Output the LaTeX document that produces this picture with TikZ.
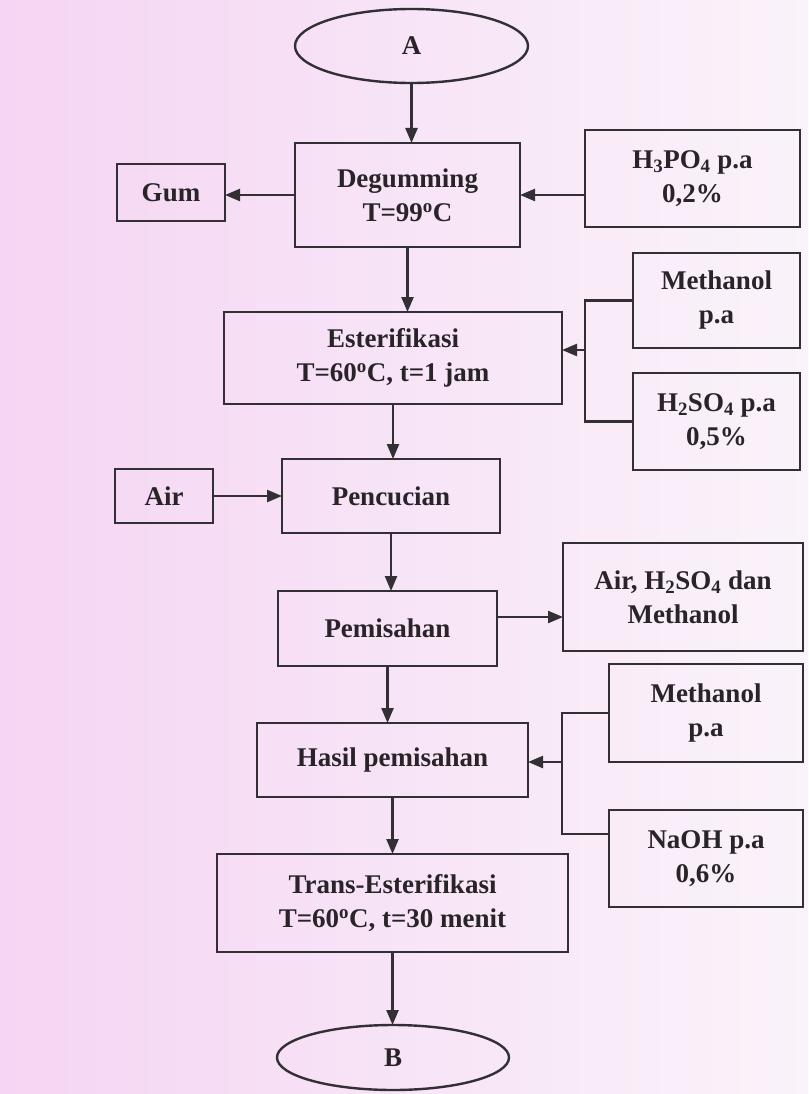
\documentclass[tikz,border=0pt]{standalone}
\usepackage{fontspec}
\setmainfont{Liberation Serif}
\usetikzlibrary{arrows.meta,shapes.geometric}
\definecolor{ink}{RGB}{50,48,52}
\definecolor{txt}{RGB}{40,36,40}
\definecolor{bgl}{RGB}{245,213,243}
\definecolor{bgr}{RGB}{250,243,250}
\begin{document}
\begin{tikzpicture}[x=1pt,y=-1pt,
  box/.style={draw=ink, line width=2.4pt, text=txt, font=\fontsize{27}{34}\selectfont\bfseries, align=center, inner sep=0pt, outer sep=0pt},
  oval/.style={box, ellipse},
  sz/.style 2 args={minimum width=#1pt, minimum height=#2pt},
  ln/.style={draw=ink, line width=2.4pt},
  arr/.style={ln, -{Triangle[length=15pt,width=12pt]}}]
\useasboundingbox (0,0) rectangle (808,1094);
\shade[left color=bgl, right color=bgr] (0,0) rectangle (808,1094);

\node[oval, sz={233}{74}] (A) at (411.5,46) {A};
\node[box, sz={225}{104}] (deg) at (407.5,195) {Degumming\\T=99\textsuperscript{o}C};
\node[box, sz={108}{57}] (gum) at (171,192.5) {Gum};
\node[box, sz={215}{97}] (h3) at (692.5,178.5) {H\textsubscript{3}PO\textsubscript{4} p.a\\0,2\%};
\node[box, sz={167}{95}] (me1) at (716.5,300.5) {Methanol\\p.a};
\node[box, sz={338}{92}] (est) at (393,358) {Esterifikasi\\T=60\textsuperscript{o}C, t=1 jam};
\node[box, sz={167}{97}] (h2) at (716.5,421.5) {H\textsubscript{2}SO\textsubscript{4} p.a\\0,5\%};
\node[box, sz={98}{54}] (air) at (164,496) {Air};
\node[box, sz={218}{74}] (pen) at (391,496) {Pencucian};
\node[box, sz={240}{108}] (aw) at (683,597) {Air, H\textsubscript{2}SO\textsubscript{4} dan\\Methanol};
\node[box, sz={219}{75}] (pem) at (387.5,628.5) {Pemisahan};
\node[box, sz={194}{98}] (me2) at (706,713) {Methanol\\p.a};
\node[box, sz={271}{74}] (has) at (392.5,760) {Hasil pemisahan};
\node[box, sz={194}{97}] (na) at (706,858.5) {NaOH p.a\\0,6\%};
\node[box, sz={351}{98}] (tr) at (392.5,903) {Trans-Esterifikasi\\T=60\textsuperscript{o}C, t=30 menit};
\node[oval, sz={232}{65}] (B) at (393,1057.5) {B};

\coordinate (j1) at (585,421.5);
\coordinate (k1) at (585,350);
\coordinate (j2) at (562,834);
\coordinate (k3) at (562,762);
\path ([yshift=11.5pt]pem.east) coordinate (p1);

\draw[arr] (A.south) -- (A.south |- deg.north);
\draw[arr] (deg.west) -- (gum.east |- deg.west);
\draw[arr] (h3.west |- deg.east) -- (deg.east);
\draw[arr] (deg.south) -- (deg.south |- est.north);
\draw[ln] (me1.west) -| (j1) -- (h2.west);
\draw[arr] (k1) -- (k1 -| est.east);
\draw[arr] (est.south) -- (est.south |- pen.north);
\draw[arr] (air.east) -- (air.east -| pen.west);
\draw[arr] (pen.south) -- (pen.south |- pem.north);
\draw[arr] (p1) -- (p1 -| aw.west);
\draw[arr] (pem.south) -- (pem.south |- has.north);
\draw[ln] (me2.west) -| (j2) -- (j2 -| na.west);
\draw[arr] (k3) -- (k3 -| has.east);
\draw[arr] (has.south) -- (has.south |- tr.north);
\draw[arr] (tr.south) -- (tr.south |- B.north);
\end{tikzpicture}
\end{document}
